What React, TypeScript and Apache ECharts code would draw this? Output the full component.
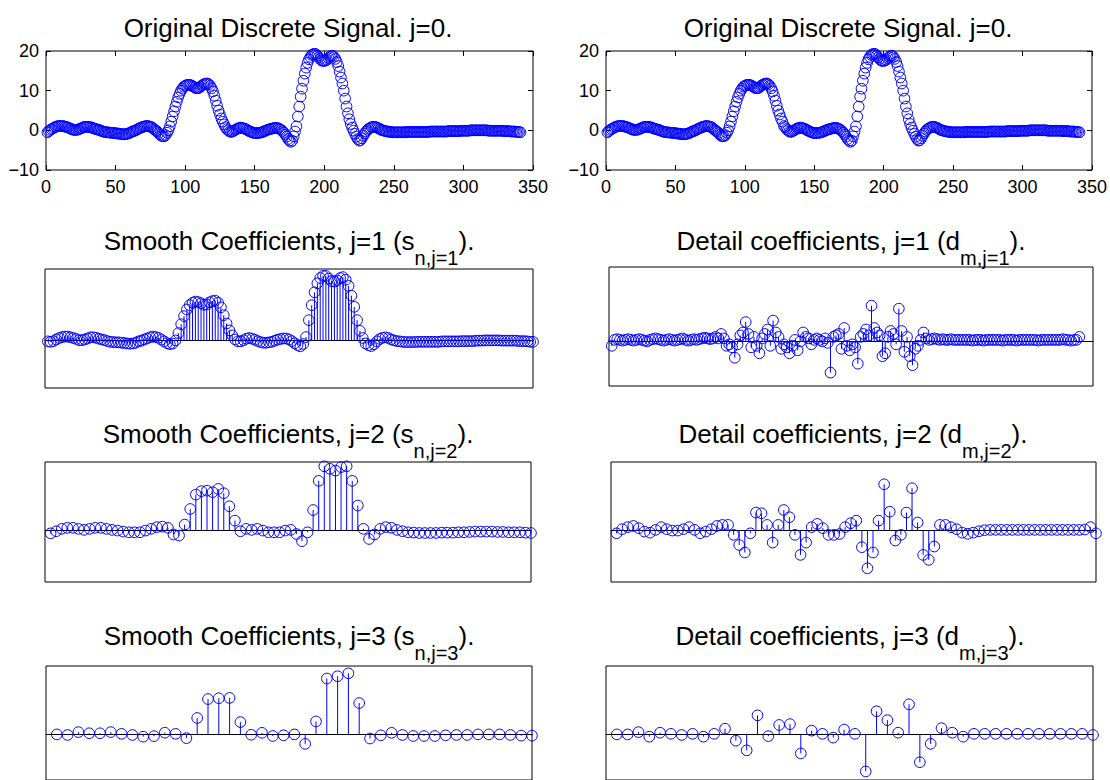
import React, { useEffect, useRef } from 'react';
import * as echarts from 'echarts';

// Original discrete signal (j=0), samples 1..341
const signal0 = [
  -0.5, -0.2, 0.1, 0.3, 0.5, 0.7, 0.9, 1.0, 1.1, 1.1,
  1.1, 1.1, 1.0, 0.9, 0.8, 0.7, 0.5, 0.4, 0.2, 0.1,
  0.1, 0.1, 0.2, 0.3, 0.5, 0.6, 0.8, 0.9, 0.9, 0.9,
  0.8, 0.8, 0.7, 0.5, 0.4, 0.3, 0.2, 0.1, 0.0, -0.2,
  -0.3, -0.4, -0.5, -0.5, -0.5, -0.6, -0.6, -0.6, -0.7, -0.7,
  -0.8, -0.8, -0.9, -0.9, -1.0, -1.0, -1.0, -0.9, -0.8, -0.7,
  -0.5, -0.3, -0.2, -0.1, 0.1, 0.3, 0.5, 0.6, 0.8, 0.9,
  1.0, 1.1, 1.1, 1.0, 0.9, 0.8, 0.5, 0.2, -0.1, -0.3,
  -0.7, -1.1, -1.4, -1.5, -1.5, -1.2, -0.6, 0.0, 1.0, 2.2,
  3.5, 4.8, 6.0, 7.2, 8.3, 9.2, 10.0, 10.5, 11.0, 11.2,
  11.4, 11.5, 11.5, 11.4, 11.2, 11.0, 10.8, 10.6, 10.6, 10.7,
  11.0, 11.3, 11.5, 11.7, 11.8, 11.8, 11.6, 11.2, 10.6, 9.8,
  8.7, 7.5, 6.2, 5.0, 4.0, 3.0, 2.2, 1.5, 0.8, 0.3,
  0.0, -0.3, -0.4, -0.3, -0.1, 0.1, 0.3, 0.5, 0.6, 0.7,
  0.6, 0.5, 0.4, 0.2, 0.0, -0.2, -0.3, -0.5, -0.6, -0.7,
  -0.7, -0.7, -0.6, -0.6, -0.5, -0.4, -0.2, -0.1, 0.1, 0.2,
  0.3, 0.4, 0.5, 0.6, 0.6, 0.6, 0.5, 0.3, 0.1, -0.2,
  -0.6, -1.1, -1.6, -2.2, -2.6, -2.9, -2.6, -1.5, -0.3, 1.0,
  3.5, 6.0, 8.5, 10.5, 12.5, 14.3, 15.8, 17.0, 17.9, 18.5,
  19.0, 19.2, 19.3, 19.2, 18.8, 18.4, 18.0, 17.6, 17.5, 17.5,
  17.6, 17.8, 18.2, 18.5, 18.8, 18.8, 18.5, 18.0, 17.2, 16.2,
  14.8, 13.3, 11.8, 10.0, 8.0, 6.0, 4.3, 2.8, 1.6, 0.7,
  -0.1, -0.9, -1.6, -2.2, -2.6, -2.5, -2.0, -1.4, -0.8, -0.3,
  0.1, 0.4, 0.6, 0.8, 0.9, 0.9, 0.8, 0.7, 0.5, 0.3,
  0.1, 0.0, -0.1, -0.2, -0.3, -0.3, -0.4, -0.4, -0.5, -0.5,
  -0.5, -0.5, -0.5, -0.5, -0.5, -0.5, -0.5, -0.5, -0.4, -0.4,
  -0.4, -0.4, -0.4, -0.4, -0.4, -0.4, -0.4, -0.4, -0.4, -0.4,
  -0.4, -0.4, -0.4, -0.4, -0.4, -0.3, -0.3, -0.3, -0.3, -0.3,
  -0.3, -0.3, -0.3, -0.3, -0.3, -0.3, -0.3, -0.3, -0.2, -0.2,
  -0.2, -0.2, -0.2, -0.2, -0.2, -0.2, -0.2, -0.1, -0.1, -0.1,
  -0.1, -0.1, -0.1, -0.1, 0.0, 0.0, 0.0, 0.0, 0.0, 0.0,
  0.0, 0.0, 0.0, 0.0, 0.0, 0.0, 0.0, -0.1, -0.1, -0.1,
  -0.1, -0.1, -0.1, -0.1, -0.1, -0.1, -0.1, -0.1, -0.2, -0.2,
  -0.2, -0.2, -0.2, -0.3, -0.3, -0.3, -0.3, -0.4, -0.4, -0.4, -0.5,
];

// Smooth coefficients j=1 (172)
const smooth1 = [
  -0.4, -0.6, -0.3, 0.4, 1.0, 1.4, 1.6, 1.6, 1.3, 1.0,
  0.6, 0.1, 0.1, 0.4, 0.8, 1.3, 1.3, 1.1, 0.7, 0.4,
  0.1, -0.3, -0.6, -0.7, -0.8, -0.8, -1.0, -1.1, -1.3, -1.4,
  -1.3, -1.0, -0.4, -0.1, 0.4, 0.8, 1.3, 1.6, 1.4, 1.1,
  0.3, -0.4, -1.2, -1.6, -1.3, 0.0, 3.1, 6.8, 10.2, 13.0,
  14.8, 15.8, 16.3, 16.1, 15.6, 15.0, 15.1, 16.0, 16.5, 16.7,
  15.8, 13.9, 10.6, 7.1, 4.2, 2.1, 0.4, -0.4, -0.4, 0.1,
  0.7, 1.0, 0.7, 0.3, -0.3, -0.7, -1.0, -1.0, -0.8, -0.6,
  -0.1, 0.3, 0.6, 0.8, 0.8, 0.4, -0.3, -1.2, -2.0, -2.5,
  -1.5, 1.4, 8.5, 14.8, 20.2, 24.0, 26.2, 27.1, 27.1, 26.0,
  24.9, 24.7, 25.2, 26.2, 26.6, 25.5, 22.9, 18.8, 14.1, 8.5,
  4.0, 1.0, -1.3, -2.0, -2.4, -1.6, -0.4, 0.6, 1.1, 1.3,
  1.0, 0.4, 0.0, -0.3, -0.4, -0.6, -0.7, -0.7, -0.7, -0.7,
  -0.6, -0.6, -0.6, -0.6, -0.6, -0.6, -0.6, -0.6, -0.6, -0.4,
  -0.4, -0.4, -0.4, -0.4, -0.4, -0.4, -0.3, -0.3, -0.3, -0.3,
  -0.3, -0.1, -0.1, -0.1, 0.0, 0.0, 0.0, 0.0, 0.0, 0.0,
  -0.1, -0.1, -0.1, -0.1, -0.1, -0.1, -0.3, -0.3, -0.3, -0.4, -0.6, -0.6,
];

// Detail coefficients j=1 (172)
const detail1 = [
  -0.3, 0.1, 0.15, 0.1, 0.05, 0.1, 0.15, 0.1, 0.05, 0.1,
  0.15, 0.1, 0.05, 0.0, 0.1, 0.15, 0.2, 0.15, 0.1, 0.05,
  0.1, 0.15, 0.1, 0.05, 0.1, 0.15, 0.2, 0.1, 0.05, 0.1,
  0.15, 0.1, 0.15, 0.2, 0.25, 0.2, 0.15, 0.2, 0.3, 0.2,
  0.5, 0.2, -0.3, -0.2, -0.4, -1.1, -0.2, 0.4, 0.6, 1.3,
  0.5, -0.4, 0.3, -0.3, -0.8, 0.2, 0.5, 0.8, -0.3, 1.4,
  0.6, 0.3, -0.5, -0.2, -0.4, -0.8, -0.3, 0.1, -0.6, 0.0,
  0.6, 0.3, 0.2, -0.2, 0.1, 0.2, 0.1, 0.0, 0.2, -0.1,
  -2.1, 0.3, 0.4, 0.5, -0.5, 0.9, -0.3, -0.6, -0.2, -0.4,
  -1.5, 0.3, 0.5, 0.8, 0.4, 2.4, 0.9, 0.6, 0.4, -1.0,
  -0.8, 0.3, 0.7, 0.5, -0.2, 2.2, 0.7, -0.7, 0.3, -1.0,
  -1.6, -0.5, -0.3, 0.1, 0.6, 0.2, 0.1, 0.15, 0.2, 0.15,
  0.1, 0.15, 0.1, 0.1, 0.15, 0.1, 0.1, 0.1, 0.1, 0.1,
  0.1, 0.1, 0.05, 0.1, 0.1, 0.1, 0.05, 0.1, 0.1, 0.1,
  0.1, 0.1, 0.1, 0.05, 0.1, 0.1, 0.1, 0.1, 0.05, 0.1,
  0.1, 0.1, 0.1, 0.1, 0.1, 0.1, 0.05, 0.1, 0.1, 0.1,
  0.1, 0.1, 0.1, 0.1, 0.1, 0.15, 0.1, 0.1, 0.05, 0.1, 0.1, 0.3,
];

// Smooth coefficients j=2 (87)
const smooth2 = [
  -1.6, -0.4, 1.0, 1.6, 1.6, 1.0, 0.4, 1.0, 1.6, 1.6,
  1.0, 0.4, 0.0, -0.6, -1.0, -1.0, -1.0, 0.0, 1.0, 2.0,
  2.3, 1.6, -2.3, -2.9, 3.5, 12.6, 21.0, 23.0, 23.3, 22.4,
  24.3, 21.8, 14.2, 5.8, -0.4, 1.0, 0.4, 1.0, 0.0, -1.0,
  -1.0, -1.0, 0.0, 0.4, -2.0, -6.2, -1.0, 12.0, 29.0, 37.5,
  36.0, 35.0, 37.0, 37.5, 29.0, 14.6, 1.0, -4.9, -2.3, 1.0,
  2.0, 1.6, 0.4, -0.4, -1.0, -1.2, -1.4, -1.4, -1.4, -1.4,
  -1.2, -1.2, -1.2, -1.0, -1.0, -0.8, -0.6, -0.6, -0.6, -0.6,
  -0.8, -0.8, -1.0, -1.0, -1.0, -1.2, -1.4,
];

// Detail coefficients j=2 (87)
const detail2 = [
  -0.16, 0.08, 0.2, 0.27, 0.14, -0.06, -0.12, 0.04, 0.2, 0.08,
  0, 0, 0.08, 0.2, 0.04, -0.16, -0.06, 0.08, 0.27, 0.33,
  0.33, -0.25, -0.84, -1.28, -0.16, 1.05, 1.01, 0.33, -0.7, 0.33,
  1.2, 0.78, -0.25, -1.42, -0.7, 0.2, 0.39, 0.14, -0.25, -0.25,
  -0.2, 0.2, 0.43, 0.58, -0.97, -2.2, -1.28, 0.58, 2.7, 1.1,
  -0.58, -0.25, 1.05, 2.47, 0.47, -1.42, -1.71, -0.93, 0.33, 0.33,
  0.2, 0.08, -0.12, -0.19, -0.12, -0.04, 0.02, 0.04, 0.04, 0.04,
  0.04, 0.04, 0.04, 0.04, 0.04, 0.04, 0.04, 0.04, 0.04, 0.04,
  0.04, 0.04, 0.04, 0.04, 0.06, 0.2, -0.16,
];

// Smooth coefficients j=3 (45)
const smooth3 = [
  0, -0.5, 2, 1, 1, 2, 0.5, -0.5, -2, -1.5,
  1.5, 0.5, -3.3, 14.4, 31, 31.7, 32, 10.8, -0.3, 1.4,
  -1.4, -0.8, 0, -8.3, 11.4, 49, 51, 53.6, 27.5, -3.6,
  -0.8, 1.4, -0.5, -1.4, -1.4, -1.4, -0.8, -0.5, -0.5, 0,
  0, 0, -0.5, -1.1, -1.1,
];

// Detail coefficients j=3 (45)
const detail3 = [
  0, 0, 0.2, -0.2, 0.15, 0.05, -0.05, 0.05, -0.2, 0.05,
  0.5, -0.55, -1.4, 1.67, -0.15, 0.83, 0.9, -1.67, 0.33, 0.05,
  -0.28, 0.42, 0.05, -3.25, 2.03, 1.25, 0.15, 2.64, -2.44, -0.83,
  0.55, 0.15, -0.2, 0.05, 0.05, 0.05, 0.05, 0.05, 0.05, 0.05,
  0.05, 0.05, 0.05, 0.05, -0.05,
];

const topXTicks = [0, 50, 100, 150, 200, 250, 300, 350];
const topYTicks = [-10, 0, 10, 20];

const FONT = '"Liberation Sans", Arial, Helvetica, sans-serif';
const BLUE = '#0000ff';
const TITLE_SIZE = 26;
const SUB_SIZE = 20;
const TICK_SIZE = 18;
const R = 5.3;

type Panel = {
  grid: { left: number; top: number; width: number; height: number };
  xRange: [number, number];
  yRange: [number, number];
  data: number[];
  stems: boolean;
  ticks: boolean;
};

const panels: Panel[] = [
  { grid: { left: 46, top: 51, width: 487, height: 119 }, xRange: [topXTicks[0], topXTicks[topXTicks.length - 1]], yRange: [topYTicks[0], topYTicks[topYTicks.length - 1]], data: signal0, stems: false, ticks: true },
  { grid: { left: 606, top: 51, width: 487, height: 119 }, xRange: [topXTicks[0], topXTicks[topXTicks.length - 1]], yRange: [topYTicks[0], topYTicks[topYTicks.length - 1]], data: signal0, stems: false, ticks: true },
  { grid: { left: 45, top: 269, width: 488, height: 119 }, xRange: [0, 172], yRange: [-20, 30], data: smooth1, stems: true, ticks: false },
  { grid: { left: 609, top: 267, width: 484, height: 119 }, xRange: [0, 177], yRange: [-3, 5], data: detail1, stems: true, ticks: false },
  { grid: { left: 45, top: 462, width: 486, height: 120 }, xRange: [0, 87], yRange: [-30, 40], data: smooth2, stems: true, ticks: false },
  { grid: { left: 611, top: 462, width: 485, height: 120 }, xRange: [0, 87], yRange: [-3, 4], data: detail2, stems: true, ticks: false },
  { grid: { left: 46, top: 666, width: 486, height: 120 }, xRange: [0, 45], yRange: [-40, 60], data: smooth3, stems: true, ticks: false },
  { grid: { left: 606, top: 666, width: 487, height: 120 }, xRange: [0, 45], yRange: [-4, 6], data: detail3, stems: true, ticks: false },
];

type TitleSpec = { cx: number; baseline: number; main: string; sub?: string; tail?: string };
const titles: TitleSpec[] = [
  { cx: 288, baseline: 36, main: 'Original Discrete Signal. j=0.' },
  { cx: 848, baseline: 36, main: 'Original Discrete Signal. j=0.' },
  { cx: 289, baseline: 250, main: 'Smooth Coefficients, j=1 (s', sub: 'n,j=1', tail: ').' },
  { cx: 851, baseline: 250, main: 'Detail coefficients, j=1 (d', sub: 'm,j=1', tail: ').' },
  { cx: 288, baseline: 443, main: 'Smooth Coefficients, j=2 (s', sub: 'n,j=2', tail: ').' },
  { cx: 853, baseline: 443, main: 'Detail coefficients, j=2 (d', sub: 'm,j=2', tail: ').' },
  { cx: 289, baseline: 645, main: 'Smooth Coefficients, j=3 (s', sub: 'n,j=3', tail: ').' },
  { cx: 850, baseline: 645, main: 'Detail coefficients, j=3 (d', sub: 'm,j=3', tail: ').' },
];

function fmtTick(v: number) {
  return v < 0 ? '\u2212' + Math.abs(v) : String(v);
}

function buildOption() {
  const grid: any[] = [];
  const xAxis: any[] = [];
  const yAxis: any[] = [];
  const series: any[] = [];

  panels.forEach((p, gi) => {
    grid.push({ ...p.grid, show: true, borderColor: '#000', borderWidth: 1, backgroundColor: 'transparent', containLabel: false });
    const xi = xAxis.length;
    const yi = yAxis.length;
    if (p.ticks) {
      const tickCommon = { show: true, inside: true, length: 5, lineStyle: { color: '#000', width: 1 } };
      xAxis.push({
        type: 'value', gridIndex: gi, position: 'bottom', min: p.xRange[0], max: p.xRange[1], interval: 50,
        axisLine: { show: false, onZero: false }, axisTick: tickCommon, splitLine: { show: false },
        axisLabel: { show: true, margin: 8, color: '#000', fontSize: TICK_SIZE, fontFamily: FONT, showMinLabel: true, showMaxLabel: true },
      });
      xAxis.push({
        type: 'value', gridIndex: gi, position: 'top', min: p.xRange[0], max: p.xRange[1], interval: 50,
        axisLine: { show: false, onZero: false }, axisTick: tickCommon, splitLine: { show: false }, axisLabel: { show: false },
      });
      yAxis.push({
        type: 'value', gridIndex: gi, position: 'left', min: p.yRange[0], max: p.yRange[1], interval: 10,
        axisLine: { show: false, onZero: false }, axisTick: tickCommon, splitLine: { show: false },
        axisLabel: { show: true, margin: 7, color: '#000', fontSize: TICK_SIZE, fontFamily: FONT, formatter: fmtTick, showMinLabel: true, showMaxLabel: true },
      });
      yAxis.push({
        type: 'value', gridIndex: gi, position: 'right', min: p.yRange[0], max: p.yRange[1], interval: 10,
        axisLine: { show: false, onZero: false }, axisTick: tickCommon, splitLine: { show: false }, axisLabel: { show: false },
      });
    } else {
      xAxis.push({
        type: 'value', gridIndex: gi, min: p.xRange[0], max: p.xRange[1],
        axisLine: { show: true, onZero: true, lineStyle: { color: '#000', width: 1 } },
        axisTick: { show: false }, axisLabel: { show: false }, splitLine: { show: false },
      });
      yAxis.push({
        type: 'value', gridIndex: gi, min: p.yRange[0], max: p.yRange[1],
        axisLine: { show: false }, axisTick: { show: false }, axisLabel: { show: false }, splitLine: { show: false },
      });
    }
    const pts = p.data.map((v, i) => [i + 1, v]);
    const stems = p.stems;
    series.push({
      type: 'custom',
      xAxisIndex: xi,
      yAxisIndex: yi,
      data: pts,
      clip: false,
      silent: true,
      z: 3,
      renderItem: (_params: any, api: any) => {
        const x = api.value(0);
        const y = api.value(1);
        const pt = api.coord([x, y]);
        const base = api.coord([x, 0]);
        const children: any[] = [];
        if (stems) {
          children.push({
            type: 'line',
            shape: { x1: pt[0], y1: base[1], x2: pt[0], y2: pt[1] },
            style: { stroke: BLUE, lineWidth: 1 },
          });
        }
        children.push({
          type: 'circle',
          shape: { cx: pt[0], cy: pt[1], r: R },
          style: { fill: 'none', stroke: BLUE, lineWidth: 1 },
        });
        return { type: 'group', children };
      },
    });
  });

  const graphic: any[] = titles.map((t) => {
    if (!t.sub) {
      return {
        type: 'text', x: t.cx, y: t.baseline - 0.31 * TITLE_SIZE, silent: true,
        style: { text: t.main, fill: '#000', fontSize: TITLE_SIZE, fontFamily: FONT, align: 'center', verticalAlign: 'middle' },
      };
    }
    const lh = TITLE_SIZE + 2;
    const top = t.baseline - (lh / 2 + 0.31 * TITLE_SIZE);
    const subPad = Math.round(t.baseline + 14 - top - SUB_SIZE / 2 - 0.31 * SUB_SIZE);
    return {
      type: 'text', x: t.cx, y: top, silent: true,
      style: {
        text: `{a|${t.main}}{b|${t.sub}}{a|${t.tail}}`,
        fill: '#000', fontFamily: FONT, fontSize: TITLE_SIZE, align: 'center', verticalAlign: 'top',
        rich: {
          a: { fontSize: TITLE_SIZE, fontFamily: FONT, lineHeight: lh, verticalAlign: 'top', fill: '#000' },
          b: { fontSize: SUB_SIZE, fontFamily: FONT, lineHeight: SUB_SIZE, padding: [subPad, 0, 0, 0], verticalAlign: 'top', fill: '#000' },
        },
      },
    };
  });

  return {
    animation: false,
    backgroundColor: '#ffffff',
    textStyle: { fontFamily: FONT },
    grid,
    xAxis,
    yAxis,
    series,
    graphic,
  };
}

export default function App() {
  const ref = useRef<HTMLDivElement>(null);
  useEffect(() => {
    if (!ref.current) return;
    const chart = echarts.init(ref.current, undefined, { renderer: 'svg', width: 1110, height: 780 });
    chart.setOption(buildOption() as any);
    return () => chart.dispose();
  }, []);
  return (
    <div
      ref={ref}
      style={{ position: 'fixed', left: 0, top: 0, width: 1110, height: 780, background: '#fff', overflow: 'hidden' }}
    />
  );
}
